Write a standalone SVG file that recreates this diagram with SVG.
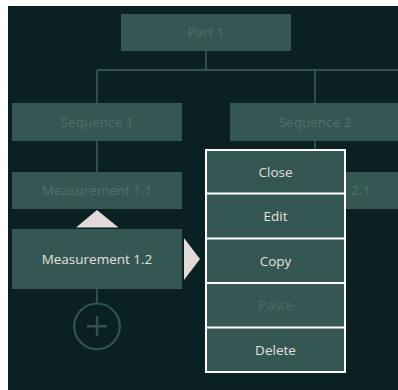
<svg xmlns="http://www.w3.org/2000/svg" width="398" height="390" viewBox="0 0 398 390">
  <style>
    .box { fill: #345753; }
    .dim { fill: #4f706c; font-family: "Open Sans", "Noto Sans", sans-serif; font-size: 13.5px; text-anchor: middle; }
    .lbl { fill: #e4e0dc; font-family: "Open Sans", "Noto Sans", sans-serif; font-size: 13.5px; text-anchor: middle; }
    .off { fill: #4a6b67; }
    .link { stroke: #3d625d; stroke-width: 1.5; fill: none; }
    .sep { stroke: #ffffff; stroke-width: 2; }
    .caret { fill: #e2dad8; }
  </style>
  <rect x="0" y="0" width="398" height="390" fill="#ffffff"/>
  <rect x="8" y="6" width="390" height="384" fill="#0b2023"/>

  <g id="connectors">
    <path class="link" d="M206 51 V70 M97 70 H398 M97 70 V103 M315 70 V103 M97 141 V172 M315 141 V150 M97 289 V303"/>
  </g>

  <g id="part1">
    <rect class="box" x="121" y="14" width="170" height="37"/>
    <text class="dim" x="206" y="37">Part 1</text>
  </g>
  <g id="sequence1">
    <rect class="box" x="12" y="103" width="170" height="38"/>
    <text class="dim" x="97" y="127">Sequence 1</text>
  </g>
  <g id="sequence2">
    <rect class="box" x="230" y="103" width="170" height="38"/>
    <text class="dim" x="315" y="127">Sequence 2</text>
  </g>
  <g id="measurement11">
    <rect class="box" x="12" y="172" width="170" height="37"/>
    <text class="dim" x="97" y="195">Measurement 1.1</text>
  </g>
  <g id="measurement21">
    <rect class="box" x="230" y="172" width="170" height="37"/>
    <text class="dim" x="315" y="195">Measurement 2.1</text>
  </g>
  <g id="measurement12">
    <rect class="box" x="12" y="229" width="170" height="60"/>
    <text class="lbl" x="97" y="264">Measurement 1.2</text>
    <polygon class="caret" points="76,227.5 97,210 118.5,227.5"/>
    <polygon class="caret" points="184,238 200,259 184,280"/>
  </g>
  <g id="add">
    <circle cx="97" cy="326.3" r="22.8" fill="none" stroke="#2f5550" stroke-width="2.2"/>
    <path d="M87 326.3 H107 M97 316.3 V336.3" stroke="#2f5550" stroke-width="2.4"/>
  </g>

  <g id="menu">
    <rect class="box" x="206" y="150" width="139" height="222" stroke="#ffffff" stroke-width="2"/>
    <line class="sep" x1="206" y1="193.5" x2="345" y2="193.5"/>
    <line class="sep" x1="206" y1="238.5" x2="345" y2="238.5"/>
    <line class="sep" x1="206" y1="283" x2="345" y2="283"/>
    <line class="sep" x1="206" y1="327.5" x2="345" y2="327.5"/>
    <text class="lbl" x="275.5" y="177">Close</text>
    <text class="lbl" x="275.5" y="221">Edit</text>
    <text class="lbl" x="275.5" y="266">Copy</text>
    <text class="lbl off" x="275.5" y="310">Paste</text>
    <text class="lbl" x="275.5" y="355">Delete</text>
  </g>
</svg>
